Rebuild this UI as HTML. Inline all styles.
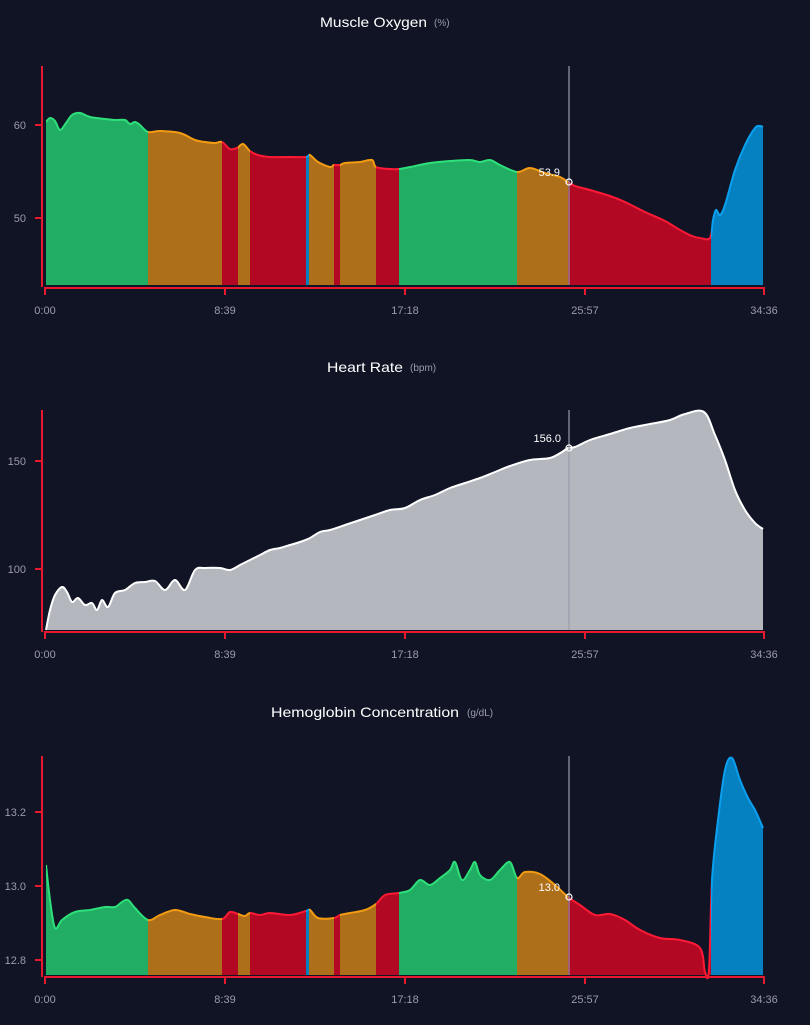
<!DOCTYPE html>
<html><head><meta charset="utf-8"><style>
html,body{margin:0;padding:0;background:#111425;}
svg{display:block;font-family:"Liberation Sans",sans-serif;}
</style></head><body>
<svg id="s" width="810" height="1025" viewBox="0 0 810 1025" xmlns="http://www.w3.org/2000/svg">
<rect width="810" height="1025" fill="#111425"/>
<text x="320" y="27" fill="#fff" font-size="14" textLength="107" lengthAdjust="spacingAndGlyphs">Muscle Oxygen</text>
<text x="434" y="26" fill="#9a9cab" font-size="10">(%)</text>
<text x="327" y="372" fill="#fff" font-size="14" textLength="76" lengthAdjust="spacingAndGlyphs">Heart Rate</text>
<text x="410" y="371" fill="#9a9cab" font-size="10">(bpm)</text>
<text x="271" y="717" fill="#fff" font-size="14" textLength="188" lengthAdjust="spacingAndGlyphs">Hemoglobin Concentration</text>
<text x="467" y="716" fill="#9a9cab" font-size="10">(g/dL)</text>
<g id="g"></g>
</svg>
<script>
var NS="http://www.w3.org/2000/svg";
var g=document.getElementById('g');
function el(t,a,p){var e=document.createElementNS(NS,t);for(var k in a)e.setAttribute(k,a[k]);(p||g).appendChild(e);return e;}
function smooth(P){var d="M"+P[0][0]+","+P[0][1];for(var i=0;i<P.length-1;i++){var p0=P[i-1]||P[i],p1=P[i],p2=P[i+1],p3=P[i+2]||p2;
var c1x=p1[0]+(p2[0]-p0[0])/6,c1y=p1[1]+(p2[1]-p0[1])/6,c2x=p2[0]-(p3[0]-p1[0])/6,c2y=p2[1]-(p3[1]-p1[1])/6;
d+=" C"+c1x.toFixed(1)+","+c1y.toFixed(1)+" "+c2x.toFixed(1)+","+c2y.toFixed(1)+" "+p2[0]+","+p2[1];}return d;}
var C={g:["#21ad64","#2ee07a"],o:["#ad6f1a","#f39c12"],r:["#b30824","#ff1a35"],b:["#0580c0","#0aa0f0"]};
var segs=[[46,148,'g'],[148,222,'o'],[222,238,'r'],[238,250,'o'],[250,306,'r'],[306,309,'b'],[309,334,'o'],[334,340,'r'],[340,376,'o'],[376,399,'r'],[399,517,'g'],[517,568,'o'],[568,711,'r'],[711,764,'b']];
var cid=0;
function chart(P,base,top,ticks,xaxY,segmented,cursor){
  var line=smooth(P);var fill=line+" L"+P[P.length-1][0]+","+base+" L"+P[0][0]+","+base+" Z";
  if(segmented){segs.forEach(function(s){var id="c"+(cid++);var cp=el('clipPath',{id:id});el('rect',{x:s[0],y:top-20,width:s[1]-s[0],height:base-top+40},cp);
   el('path',{d:fill,fill:C[s[2]][0],'clip-path':'url(#'+id+')'});el('path',{d:line,fill:'none',stroke:C[s[2]][1],'stroke-width':2,'clip-path':'url(#'+id+')'});});}
  else{el('path',{d:fill,fill:'#b4b7be'});el('path',{d:line,fill:'none',stroke:'#fff','stroke-width':2});}
  el('line',{x1:569,y1:top,x2:569,y2:base,stroke:'#9a9cab','stroke-width':1.5,opacity:0.8});
  el('circle',{cx:569,cy:cursor[0],r:3,fill:'none',stroke:'#fff','stroke-width':1.2});
  var t=el('text',{x:cursor[2],y:cursor[0]-6,fill:'#fff','font-size':11,'text-anchor':'end'});t.textContent=cursor[1];
  el('line',{x1:42,y1:top,x2:42,y2:base+2,stroke:'#e8192f','stroke-width':2});
  ticks.forEach(function(tk){el('line',{x1:35,y1:tk[1],x2:42,y2:tk[1],stroke:'#e8192f','stroke-width':2});var tt=el('text',{x:26,y:tk[1]+4,fill:'#9a9cab','font-size':11,'text-anchor':'end'});tt.textContent=tk[0];});
  el('line',{x1:44,y1:xaxY,x2:765,y2:xaxY,stroke:'#e8192f','stroke-width':2});
  [[45,'0:00'],[225,'8:39'],[405,'17:18'],[585,'25:57'],[764,'34:36']].forEach(function(x){el('line',{x1:x[0],y1:xaxY,x2:x[0],y2:xaxY+7,stroke:'#e8192f','stroke-width':2});var tt=el('text',{x:x[0],y:xaxY+26,fill:'#9a9cab','font-size':11,'text-anchor':'middle'});tt.textContent=x[1];});
}
var P1=[[46,122],[50,118],[55,121],[60,130],[66,123],[72,115],[80,113],[90,117],[105,119],[115,120],[125,120],[130,124],[135,122],[140,125],[148,132],[160,131],[180,133],[195,140],[205,142],[215,143],[222,142],[230,149],[237,148],[243,144],[250,151],[258,155],[270,157],[290,157],[306,157],[310,155],[318,162],[330,167],[334,165],[340,165],[345,163],[360,162],[372,160],[376,167],[390,169],[399,169],[410,167],[430,163],[450,161],[470,160],[480,162],[490,160],[500,165],[517,172],[530,168],[545,173],[560,177],[568,182],[575,186],[590,190],[610,196],[625,202],[645,212],[665,221],[680,230],[692,236],[700,238],[710,238],[713,220],[716,210],[720,215],[725,205],[735,170],[745,145],[755,128],[760,126],[763,127]];
var P2=[[46,630],[50,610],[55,595],[62,587],[67,592],[72,602],[78,598],[85,605],[92,603],[97,610],[102,600],[108,607],[115,593],[125,590],[135,583],[145,582],[155,581],[165,590],[175,580],[185,590],[195,570],[205,568],[220,568],[230,570],[240,565],[250,560],[260,555],[270,550],[280,548],[290,545],[300,542],[310,538],[320,532],[330,530],[345,525],[360,520],[375,515],[390,510],[405,508],[420,500],[435,495],[450,488],[465,483],[480,478],[495,472],[510,466],[530,460],[550,458],[562,452],[568,448],[575,447],[590,440],[610,434],[630,428],[650,424],[670,420],[685,414],[704,412],[715,435],[725,460],[735,490],[745,510],[755,523],[763,529]];
var P3=[[46,865],[50,900],[55,928],[62,920],[75,912],[90,910],[105,907],[115,907],[122,902],[128,900],[135,908],[148,920],[160,915],[175,910],[190,914],[205,917],[222,919],[230,912],[238,914],[245,916],[250,913],[260,915],[270,913],[290,915],[306,911],[310,910],[318,918],[334,918],[340,915],[350,913],[365,910],[376,904],[385,895],[399,893],[410,890],[420,880],[430,885],[440,878],[450,870],[455,862],[462,880],[470,870],[475,862],[480,875],[490,880],[500,870],[510,862],[517,878],[525,872],[540,874],[555,885],[568,897],[580,905],[595,915],[610,914],[625,920],[640,930],[660,938],[680,940],[700,948],[705,972],[709,970],[712,880],[718,820],[725,770],[732,758],[740,780],[748,798],[755,810],[763,828]];
chart(P1,285,66,[['60',125],['50',218]],288,true,[182,'53.9',560]);
chart(P2,630,410,[['150',461],['100',569]],632,false,[448,'156.0',561]);
chart(P3,975,756,[['13.2',812],['13.0',886],['12.8',960]],977,true,[897,'13.0',560]);
</script>
</body></html>
